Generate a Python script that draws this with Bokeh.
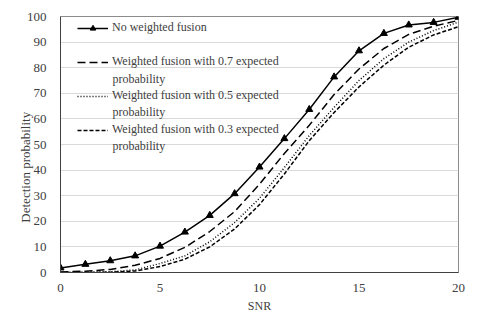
from bokeh.plotting import figure
from bokeh.models import (Range1d, FixedTicker, Legend, LegendItem, Label)
from bokeh.embed import file_html
from bokeh.resources import INLINE

# ---- data ----
snr = [0, 1.25, 2.5, 3.75, 5, 6.25, 7.5, 8.75, 10, 11.25, 12.5, 13.75, 15, 16.25, 17.5, 18.75, 20]
no_weight = [1.8, 3.2, 4.6, 6.5, 10.3, 15.8, 22.3, 30.8, 41.2, 52.3, 63.7, 76.4, 86.6, 93.4, 96.7, 97.7, 99.7]
w07 = [0.2, 0.5, 1.2, 2.8, 5.5, 9.8, 16.0, 23.8, 34.5, 46.5, 57.5, 69.5, 79.5, 87.5, 93.0, 96.2, 98.5]
w05 = [0.0, 0.1, 0.3, 1.0, 3.5, 6.5, 12.0, 19.5, 29.0, 41.0, 53.5, 64.5, 75.0, 83.5, 90.0, 94.5, 97.8]
w03 = [0.0, 0.0, 0.1, 0.6, 2.3, 5.2, 10.0, 17.0, 26.5, 38.5, 51.5, 62.5, 72.5, 81.0, 88.0, 92.8, 96.0]

x_ticks = [0, 5, 10, 15, 20]
y_ticks = [0, 10, 20, 30, 40, 50, 60, 70, 80, 90, 100]

legend_first = ["No weighted fusion",
                "Weighted fusion with 0.7 expected",
                "Weighted fusion with 0.5 expected",
                "Weighted fusion with 0.3 expected"]
legend_second = ["probability", "probability", "probability"]

FONT = "Times New Roman"
FONT_Q = "'Times New Roman', serif"
TXT = "#404040"

p = figure(width=480, height=320, output_backend="svg", toolbar_location=None,
           x_range=Range1d(0, 20), y_range=Range1d(0, 100),
           min_border_left=60, min_border_right=22, min_border_top=16, min_border_bottom=48)

p.background_fill_color = "white"
p.border_fill_color = "white"
p.outline_line_color = "#8c8c8c"
p.outline_line_width = 1

p.xgrid.grid_line_color = None
p.ygrid.grid_line_color = "#d9d9d9"
p.ygrid.grid_line_width = 1

p.xaxis.ticker = FixedTicker(ticks=x_ticks)
p.yaxis.ticker = FixedTicker(ticks=y_ticks)
for ax in (p.xaxis[0], p.yaxis[0]):
    ax.major_tick_line_color = None
    ax.minor_tick_line_color = None
    ax.axis_line_color = "#404040"
    ax.axis_line_width = 1
    ax.major_label_text_font = FONT_Q
    ax.major_label_text_font_size = "13px"
    ax.major_label_text_color = TXT
p.yaxis.major_label_standoff = 8
p.xaxis.major_label_standoff = 5

p.xaxis.axis_label = "SNR"
p.xaxis.axis_label_text_font = FONT
p.xaxis.axis_label_text_font_size = "12px"
p.xaxis.axis_label_text_font_style = "normal"
p.xaxis.axis_label_text_color = TXT
p.xaxis.axis_label_standoff = 4

p.yaxis.axis_label = "Detection probability" + "\u00a0" * 14
p.yaxis.axis_label_text_font = FONT
p.yaxis.axis_label_text_font_size = "13px"
p.yaxis.axis_label_text_font_style = "normal"
p.yaxis.axis_label_text_color = TXT
p.yaxis.axis_label_standoff = -9

LW = 1.5
r0 = p.line(snr, no_weight, line_color="black", line_width=LW)
r0m = p.scatter(snr, no_weight, marker="triangle", size=7, fill_color="black", line_color="black")
r1 = p.line(snr, w07, line_color="black", line_width=LW, line_dash="8 4")
r2 = p.line(snr, w05, line_color="black", line_width=LW, line_dash="1 2")
r3 = p.line(snr, w03, line_color="black", line_width=LW, line_dash="4 2")

legend = Legend(items=[
    LegendItem(label=legend_first[0], renderers=[r0, r0m]),
    LegendItem(label=legend_first[1], renderers=[r1]),
    LegendItem(label=legend_first[2], renderers=[r2]),
    LegendItem(label=legend_first[3], renderers=[r3]),
], location=(17, 135))
legend.margin = 0
legend.padding = 0
legend.spacing = 19
legend.glyph_width = 31
legend.glyph_height = 14
legend.label_height = 14
legend.label_standoff = 4
legend.label_text_font = FONT_Q
legend.label_text_font_size = "12px"
legend.label_text_color = TXT
legend.background_fill_alpha = 0
legend.border_line_color = None
p.add_layout(legend)

for txt, yy in zip(legend_second, [194, 161, 127]):
    p.add_layout(Label(x=52, y=yy, x_units="screen", y_units="screen", text=txt,
                       text_align="left", text_baseline="middle",
                       text_font=FONT_Q, text_font_size="12px", text_color=TXT))

open("out.html", "w").write(file_html(p, INLINE))
